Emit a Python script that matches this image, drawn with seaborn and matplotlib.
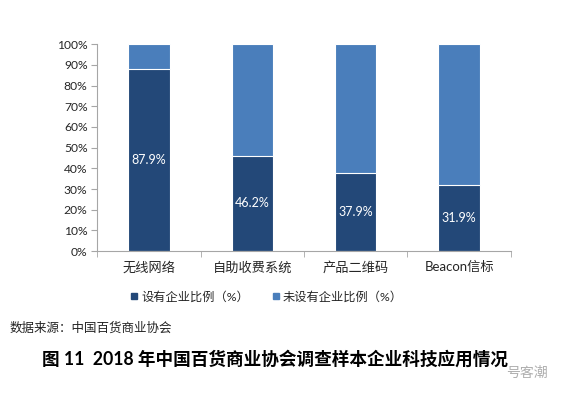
import matplotlib
matplotlib.use("Agg")
import matplotlib.pyplot as plt
import seaborn as sns
import pandas as pd
from matplotlib.ticker import PercentFormatter, FixedLocator
from matplotlib.lines import Line2D

# data
categories = ["无线网络", "自助收费系统", "产品二维码", "Beacon信标"]
have_pct = [87.9, 46.2, 37.9, 31.9]
not_pct = [round(100 - v, 1) for v in have_pct]
legend_labels = ["设有企业比例（%）", "未设有企业比例（%）"]

dark = "#234878"
light = "#4A7EBB"

sns.set_style("white")
plt.rcParams["font.family"] = ["Lato", "Noto Sans CJK SC", "DejaVu Sans"]

df = pd.DataFrame({"cat": categories, "have": have_pct, "total": [h + n for h, n in zip(have_pct, not_pct)]})

fig = plt.figure(figsize=(5.72, 3.98), dpi=100)
ax = fig.add_axes([0.170, 0.369, 0.723, 0.520])

# light full bar underneath, dark share on top
sns.barplot(data=df, x="cat", y="total", color=light, width=0.4, ax=ax,
            saturation=1, edgecolor="white", linewidth=0.8)
sns.barplot(data=df, x="cat", y="have", color=dark, width=0.4, ax=ax,
            saturation=1, edgecolor="white", linewidth=0.8)

for i, v in enumerate(have_pct):
    ax.text(i, v / 2, f"{v}%", color="white", ha="center", va="center", fontsize=9)

ax.set_ylim(0, 100)
ax.set_xlim(-0.5, 3.5)
ax.yaxis.set_major_locator(FixedLocator(range(0, 101, 10)))
ax.yaxis.set_major_formatter(PercentFormatter(100, decimals=0))
ax.set_xlabel("")
ax.set_ylabel("")

for s in ["top", "right"]:
    ax.spines[s].set_visible(False)
for s in ["left", "bottom"]:
    ax.spines[s].set_color("#A6A6A6")
    ax.spines[s].set_linewidth(0.8)

ax.tick_params(axis="y", direction="out", length=4, color="#A6A6A6", labelsize=8.7, pad=3, left=True)
ax.tick_params(axis="x", which="major", length=0, labelsize=9.5, pad=7)
ax.xaxis.set_minor_locator(FixedLocator([-0.5, 0.5, 1.5, 2.5, 3.5]))
ax.tick_params(axis="x", which="minor", direction="out", length=4, color="#A6A6A6", bottom=True)

handles = [Line2D([0], [0], marker="s", color="none", markerfacecolor=dark, markeredgecolor=dark, markersize=5),
           Line2D([0], [0], marker="s", color="none", markerfacecolor=light, markeredgecolor=light, markersize=5)]
fig.legend(handles, legend_labels, loc="center", bbox_to_anchor=(0.465, 0.254), ncol=2,
           frameon=False, fontsize=8.8, handletextpad=0.2, columnspacing=1.8, handlelength=0.8)

fig.text(0.017, 0.178, "数据来源：中国百货商业协会", fontsize=9, color="#222222", va="center", ha="left")
fig.text(0.48, 0.098, "图 11  2018 年中国百货商业协会调查样本企业科技应用情况", fontsize=12.7,
         fontweight="bold", va="center", ha="center", color="black")
fig.text(0.922, 0.065, "号客潮", fontsize=10, color="#9A9A9A", va="center", ha="center", alpha=0.8)

fig.savefig("out.png", dpi=100)
